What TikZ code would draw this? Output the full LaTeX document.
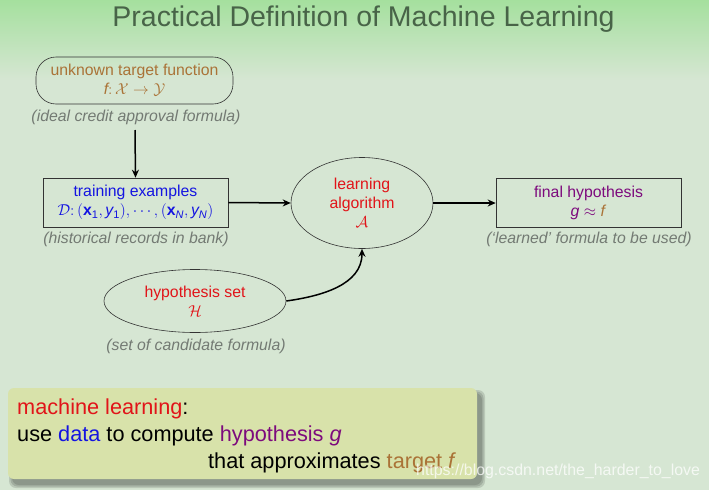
\RequirePackage{fix-cm}
\documentclass[tikz,border=0pt]{standalone}
\usepackage{fontspec}
\setmainfont{Liberation Sans}
\usetikzlibrary{shapes.geometric,arrows.meta}
\DeclareMathSizes{15.8}{15.8}{11}{8}
\definecolor{bgtop}{RGB}{165,224,158}
\definecolor{bgbot}{RGB}{214,230,211}
\definecolor{titlec}{RGB}{72,100,72}
\definecolor{mlred}{RGB}{225,20,25}
\definecolor{mlblue}{RGB}{20,20,225}
\definecolor{mlpurple}{RGB}{125,10,125}
\definecolor{mlbrown}{RGB}{170,115,55}
\definecolor{mlgray}{RGB}{115,122,115}
\definecolor{boxfill}{RGB}{216,226,170}
\newcommand\nodefont{\fontsize{15.8}{19}\selectfont}
\newcommand\bigfont{\fontsize{21.7}{27}\selectfont}
\begin{document}
\begin{tikzpicture}[x=1pt,y=-1pt,
  every node/.style={font=\nodefont, inner sep=0pt},
  rbox/.style={draw=black!80, line width=0.6pt, rectangle, rounded corners=20pt, minimum width=197pt, minimum height=47pt, align=center},
  sbox/.style={draw=black!80, line width=0.6pt, rectangle, minimum width=185pt, minimum height=49pt, align=center},
  ell/.style={draw=black!80, line width=0.6pt, ellipse, align=center},
  note/.style={text=mlgray, font=\nodefont\itshape},
  flow/.style={-{Stealth[length=8pt,width=7pt]}, line width=1.5pt},
  bigtext/.style={anchor=base west, font=\bigfont, text=black},
  shadowlayer/.style={fill=black, opacity=0.13, rounded corners=7pt}]
\useasboundingbox (0,0) rectangle (709,490);
\fill[bgbot] (0,0) rectangle (709,490);
\shade[top color=bgtop, bottom color=bgbot] (0,0) rectangle (709,80);

\node[anchor=base, text=titlec, font=\fontsize{28.5}{34}\selectfont] (title) at (363.5,26.7) {Practical Definition of Machine Learning};

\node[rbox, text=mlbrown] (target) at (134.5,80.5) {unknown target function\\ $\mathit{f}\colon \mathcal{X}\to\mathcal{Y}$};
\node[note, anchor=base] (lab1) at (136,121.7) {(ideal credit approval formula)};
\coordinate (a1) at (135,130);

\node[sbox, text=mlblue] (train) at (135.5,202.5) {training examples\\ $\mathcal{D}\colon(\mathbf{x}_{\mathrm{1}},\mathit{y}_{\mathrm{1}}),\cdots,(\mathbf{x}_{\mathit{N}},\mathit{y}_{\mathit{N}})$};
\node[note, anchor=base] (lab2) at (136,243.3) {(historical records in bank)};

\node[ell, text=mlred, minimum width=142pt, minimum height=91pt] (alg) at (362,203) {learning\\algorithm\\$\mathcal{A}$};

\node[sbox, text=mlpurple] (final) at (588.5,203) {final hypothesis\\ \textit{g} $\approx$ \textcolor{mlbrown}{\textit{f}}};
\node[note, anchor=base] (lab3) at (589,243.3) {(`learned' formula to be used)};

\node[ell, text=mlred, minimum width=182pt, minimum height=63pt] (hyp) at (195,301) {hypothesis set\\$\mathcal{H}$};
\node[note, anchor=base] (lab4) at (196,350.7) {(set of candidate formula)};

\draw[flow] (a1) -- (train.north);
\draw[flow] (train.east) -- (alg.west);
\draw[flow] (alg.east) -- (final.west);
\draw[flow] (hyp.east) to[out=8,in=-90] (alg.south);

% soft shadow of the summary box
\foreach \g in {0,1.5,3}{
  \fill[shadowlayer] (12-\g,393-\g) rectangle (482+\g,485+\g);
}
\node[fill=boxfill, rounded corners=6pt, minimum width=469pt, minimum height=91pt] (mlbox) at (242.5,433.5) {};
\node[bigtext] (t1) at (17,414) {\textcolor{mlred}{machine learning}:};
\node[bigtext] (t2) at (17,441.7) {use \textcolor{mlblue}{data} to compute \textcolor{mlpurple}{hypothesis \textit{g}}};
\node[bigtext] (t3) at (208,468) {that approximates \textcolor{mlbrown}{target \textit{f}}};

\node[anchor=base west, text=white, opacity=0.75, font=\fontsize{15.9}{18}\selectfont] (wm) at (416,475) {https://blog.csdn.net/the\_harder\_to\_love};
\end{tikzpicture}
\end{document}
